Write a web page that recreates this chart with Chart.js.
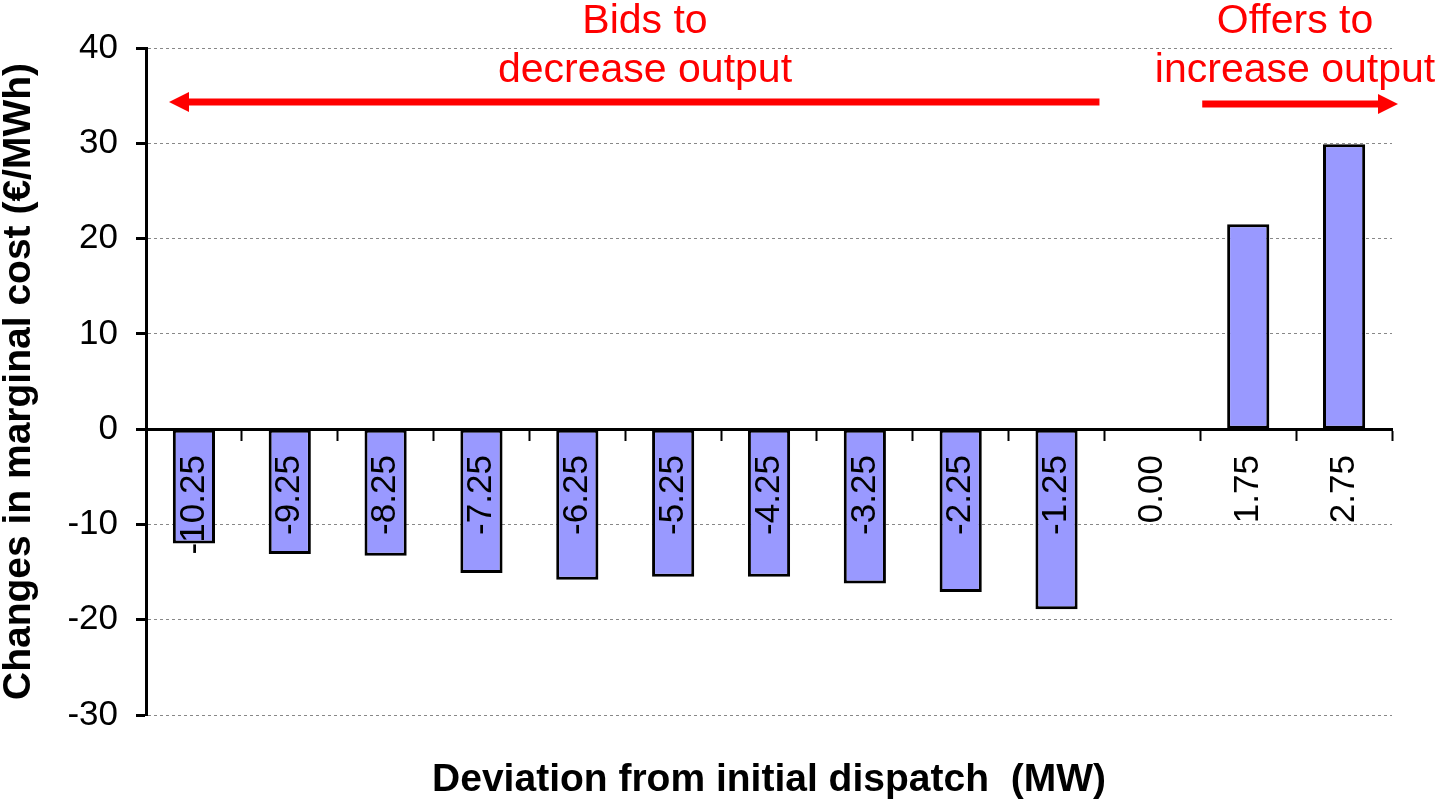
<!DOCTYPE html>
<html>
<head>
<meta charset="utf-8">
<script src="https://cdn.jsdelivr.net/npm/chart.js"></script>
<style>
  body { margin: 0; background: #fff; }
  canvas { display: block; }
</style>
</head>
<body>
<canvas id="myChart" width="1443" height="806"></canvas>
<script>
// deviation categories (MW) and change in marginal cost (EUR/MWh)
const categories = ['-10.25', '-9.25', '-8.25', '-7.25', '-6.25', '-5.25', '-4.25', '-3.25', '-2.25', '-1.25', '0.00', '1.75', '2.75'];
const costChange = [-12.0, -13.1, -13.3, -15.1, -15.8, -15.5, -15.5, -16.2, -17.1, -18.9, 0, 21.5, 29.9];
const yMin = -30;
const yMax = 40;
const yStep = 10;

const bidsText = ['Bids to', 'decrease output'];
const offersText = ['Offers to', 'increase output'];

const FONT = 'Arial, "Liberation Sans", sans-serif';

function arrow(ctx, x1, x2, y) {
    // line from x1 to x2 with head at x2
    var dir = x2 > x1 ? 1 : -1;
    var headLen = 20;
    ctx.strokeStyle = '#ff0000';
    ctx.fillStyle = '#ff0000';
    ctx.lineWidth = 7;
    ctx.beginPath();
    ctx.moveTo(x1, y);
    ctx.lineTo(x2 - dir * headLen, y);
    ctx.stroke();
    ctx.beginPath();
    ctx.moveTo(x2, y);
    ctx.lineTo(x2 - dir * headLen, y - 10);
    ctx.lineTo(x2 - dir * headLen, y + 10);
    ctx.closePath();
    ctx.fill();
}

// red notes + arrows above the bars
const notes = {
    id: 'notes',
    afterDraw(chart) {
        const ctx = chart.ctx;
        const area = chart.chartArea;
        const x = chart.scales.x;
        ctx.save();
        ctx.font = '41px ' + FONT;
        ctx.fillStyle = '#ff0000';
        ctx.textAlign = 'center';
        ctx.textBaseline = 'alphabetic';
        ctx.fillText(bidsText[0], 645, area.top - 15);
        ctx.fillText(bidsText[1], 645, area.top + 34);
        ctx.fillText(offersText[0], 1295, area.top - 15);
        ctx.fillText(offersText[1], 1295, area.top + 34);

        var mid = (x.getPixelForValue(9) + x.getPixelForValue(10)) / 2;
        arrow(ctx, mid - 5, area.left + 23, area.top + 54);
        arrow(ctx, x.getPixelForValue(11) - 46, area.right + 6, area.top + 56);
        ctx.restore();
    }
};

new Chart(document.getElementById('myChart'), {
    type: 'bar',
    data: {
        labels: categories,
        datasets: [{
            data: costChange,
            backgroundColor: '#9999ff',
            borderColor: '#000000',
            borderWidth: 3,
            borderSkipped: false,
            categoryPercentage: 1,
            barPercentage: 0.44
        }]
    },
    options: {
        responsive: false,
        animation: false,
        layout: { padding: { top: 48, right: 51, left: 0, bottom: 0 } },
        plugins: {
            legend: { display: false },
            tooltip: { enabled: false }
        },
        scales: {
            x: {
                type: 'category',
                position: { y: 0 },
                offset: true,
                grid: {
                    offset: true,
                    drawOnChartArea: false,
                    drawTicks: true,
                    tickLength: 10,
                    tickColor: '#000',
                    tickWidth: 2,
                    z: 1
                },
                border: { display: true, color: '#000', width: 3, z: 1 },
                ticks: {
                    z: 1,
                    autoSkip: false,
                    minRotation: 90,
                    maxRotation: 90,
                    padding: 16,
                    color: '#000',
                    font: { family: FONT, size: 35 }
                }
            },
            x2: {
                type: 'category',
                position: 'bottom',
                grid: { display: false },
                border: { display: false },
                ticks: { display: false },
                afterFit(s) { s.height = 91; },
                title: {
                    display: true,
                    text: 'Deviation from initial dispatch  (MW)',
                    color: '#000',
                    font: { family: FONT, size: 39, weight: 'bold', lineHeight: 1 },
                    padding: { top: 0, bottom: 6 }
                }
            },
            y: {
                position: 'left',
                min: yMin,
                max: yMax,
                afterFit(s) { s.width = 146; },
                ticks: {
                    stepSize: yStep,
                    padding: 18,
                    color: '#000',
                    font: { family: FONT, size: 35 }
                },
                grid: {
                    color: '#888',
                    lineWidth: 1,
                    tickLength: 10,
                    tickColor: '#000',
                    tickWidth: 3
                },
                border: { display: true, color: '#000', width: 3, dash: [3, 3] },
                title: {
                    display: true,
                    text: 'Changes in marginal cost (€/MWh)',
                    color: '#000',
                    font: { family: FONT, size: 39, weight: 'bold', lineHeight: 1 },
                    padding: 0
                }
            }
        }
    },
    plugins: [notes]
});
</script>
</body>
</html>
